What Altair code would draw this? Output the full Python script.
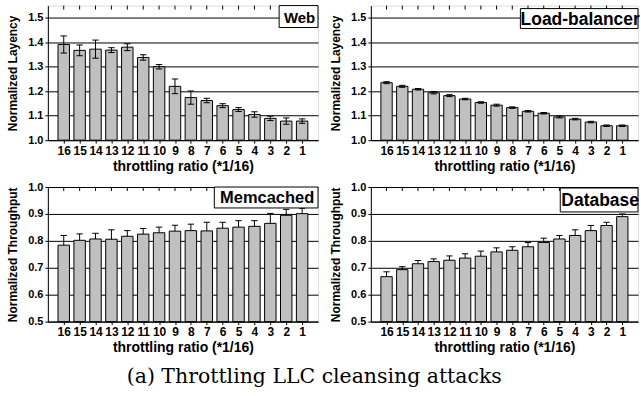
import altair as alt
import pandas as pd

# throttling ratio (*1/16), left to right
ratios = [16, 15, 14, 13, 12, 11, 10, 9, 8, 7, 6, 5, 4, 3, 2, 1]

web_mean = [1.391, 1.367, 1.372, 1.368, 1.380, 1.338, 1.300, 1.220,
            1.174, 1.162, 1.141, 1.125, 1.105, 1.089, 1.078, 1.078]
web_err = [0.035, 0.022, 0.037, 0.010, 0.014, 0.011, 0.009, 0.030,
           0.027, 0.009, 0.008, 0.008, 0.011, 0.009, 0.013, 0.009]

lb_mean = [1.235, 1.220, 1.208, 1.194, 1.182, 1.168, 1.154, 1.143,
           1.133, 1.118, 1.110, 1.095, 1.086, 1.074, 1.059, 1.059]
lb_err = [0.004, 0.004, 0.003, 0.005, 0.004, 0.003, 0.003, 0.004,
          0.003, 0.003, 0.003, 0.004, 0.003, 0.003, 0.003, 0.003]

mem_mean = [0.784, 0.802, 0.807, 0.806, 0.817, 0.825, 0.830, 0.836,
            0.838, 0.837, 0.847, 0.851, 0.854, 0.865, 0.895, 0.901]
mem_err = [0.036, 0.024, 0.021, 0.035, 0.021, 0.021, 0.021, 0.022,
           0.024, 0.032, 0.022, 0.024, 0.021, 0.037, 0.022, 0.020]

db_mean = [0.667, 0.693, 0.715, 0.723, 0.728, 0.736, 0.743, 0.759,
           0.765, 0.778, 0.794, 0.807, 0.820, 0.838, 0.857, 0.890]
db_err = [0.018, 0.011, 0.012, 0.010, 0.016, 0.016, 0.019, 0.015,
          0.013, 0.016, 0.016, 0.013, 0.021, 0.019, 0.012, 0.010]

latency_ticks = [1.0, 1.1, 1.2, 1.3, 1.4, 1.5]
throughput_ticks = [0.5, 0.6, 0.7, 0.8, 0.9, 1.0]

FONT = "Liberation Sans"
AXIS_STYLE = dict(
    labelFont=FONT, titleFont=FONT, labelFontWeight="bold", titleFontWeight="bold",
    labelColor="black", titleColor="black", domainColor="black", tickColor="black",
    domainWidth=1, tickWidth=1,
)


def panel(name, mean, err, y_dom, y_ticks, y_title, both, width,
          box_x, box_y, box_h, box_font):
    df = pd.DataFrame({"r": ratios, "mean": mean, "err": err})
    df["hi"] = df["mean"] + df["err"]
    df["lo"] = df["mean"] - df["err"] if both else df["mean"]

    xscale = alt.Scale(domain=[0, 17], reverse=True, nice=False, zero=False)
    xaxis = alt.Axis(values=ratios, format="d", title="throttling ratio (*1/16)",
                     grid=False, labelOverlap=False, labelFlush=False,
                     tickSize=3, labelPadding=2, titlePadding=3,
                     labelFontSize=12, titleFontSize=14, **AXIS_STYLE)
    yscale = alt.Scale(domain=y_dom, nice=False, zero=False)
    yaxis = alt.Axis(values=y_ticks, format=".1f", title=y_title, grid=True,
                     gridColor="black", gridOpacity=1, gridWidth=1,
                     tickSize=3, labelPadding=2, titlePadding=8,
                     labelFontSize=11, titleFontSize=12, **AXIS_STYLE)

    base = alt.Chart(df)
    bars = base.mark_bar(fill="#c0c0c0", stroke="black", strokeWidth=1).transform_calculate(
        x0="datum.r - 0.36", x1="datum.r + 0.36"
    ).encode(
        x=alt.X("x0:Q", scale=xscale, axis=xaxis),
        x2="x1:Q",
        y=alt.Y("mean:Q", scale=yscale, axis=yaxis),
        y2=alt.Y2(datum=y_dom[0]),
    )
    whisker = base.mark_rule(color="black", strokeWidth=1).encode(
        x=alt.X("r:Q", scale=xscale, axis=xaxis),
        y=alt.Y("lo:Q", scale=yscale, axis=yaxis),
        y2="hi:Q",
    )
    cap_hi = base.mark_rule(color="black", strokeWidth=1).transform_calculate(
        c0="datum.r - 0.2", c1="datum.r + 0.2"
    ).encode(
        x=alt.X("c0:Q", scale=xscale, axis=xaxis),
        x2="c1:Q",
        y=alt.Y("hi:Q", scale=yscale, axis=yaxis),
    )
    layers = [bars, whisker, cap_hi]
    if both:
        cap_lo = base.mark_rule(color="black", strokeWidth=1).transform_calculate(
            c0="datum.r - 0.2", c1="datum.r + 0.2"
        ).encode(
            x=alt.X("c0:Q", scale=xscale, axis=xaxis),
            x2="c1:Q",
            y=alt.Y("lo:Q", scale=yscale, axis=yaxis),
        )
        layers.append(cap_lo)

    # small inward ticks along the top edge of the frame
    top_ticks = base.mark_rule(color="black", strokeWidth=1).encode(
        x=alt.X("r:Q", scale=xscale, axis=xaxis),
        y=alt.value(0), y2=alt.value(4),
    )
    layers.append(top_ticks)

    # panel name in a framed box at the top right
    lab = pd.DataFrame({"name": [name]})
    box = alt.Chart(lab).mark_rect(fill="white", stroke="black", strokeWidth=1).encode(
        x=alt.value(box_x), x2=alt.value(width),
        y=alt.value(box_y), y2=alt.value(box_y + box_h),
    )
    txt = alt.Chart(lab).mark_text(
        font=FONT, fontWeight="bold", fontSize=box_font, align="center", baseline="middle"
    ).encode(
        x=alt.value((box_x + width) / 2 + 1), y=alt.value(box_y + box_h / 2 + 1),
        text="name:N",
    )
    layers += [box, txt]
    return alt.layer(*layers).properties(width=width, height=135)


web = panel("Web", web_mean, web_err, [1.0, 1.55], latency_ticks,
            "Normalized Layency", True, 271, 232, 0, 22, 15)
lb = panel("Load-balancer", lb_mean, lb_err, [1.0, 1.55], latency_ticks,
           "Normalized Layency", True, 268, 150, 3, 20, 17.5)
mem = panel("Memcached", mem_mean, mem_err, [0.5, 1.0], throughput_ticks,
            "Normalized Throughput", False, 271, 167, 0, 21, 16.5)
db = panel("Database", db_mean, db_err, [0.5, 1.0], throughput_ticks,
           "Normalized Throughput", False, 268, 190, 1, 24, 17.5)

chart = alt.vconcat(
    alt.hconcat(web, lb, spacing=10),
    alt.hconcat(mem, db, spacing=10),
    spacing=6,
).properties(
    title=alt.TitleParams("(a) Throttling LLC cleansing attacks", orient="bottom",
                          anchor="middle", font="DejaVu Serif", fontSize=20.5,
                          fontWeight="normal", offset=12, dx=-9, color="black"),
    padding={"left": 6, "top": 4, "right": 0, "bottom": 0},
).configure_view(
    stroke="black", strokeWidth=1
).configure(background="white")

chart.save("out.html", embed_options={"renderer": "svg", "actions": False})
